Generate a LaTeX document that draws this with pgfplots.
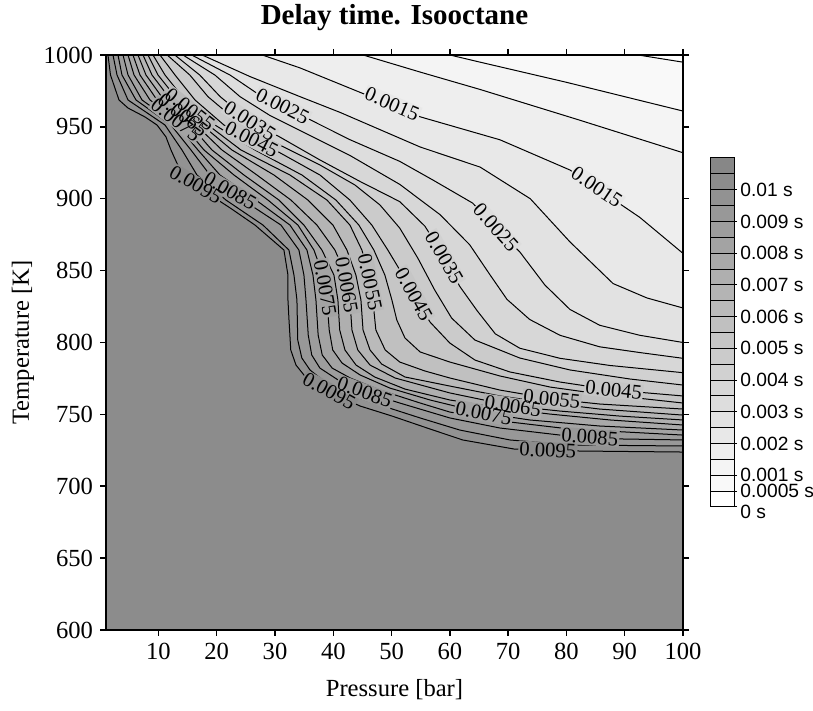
\documentclass[border=0pt]{standalone}
\usepackage{fontspec}
\setmainfont{Liberation Serif}
\newfontfamily\sansf{Liberation Sans}
\usepackage{pgfplots}
\usepackage{pgfplotstable}
\pgfplotsset{compat=1.18}

% gray levels of the 22 colour classes (0 ... 0.011 s in steps of 0.0005 s)
\definecolor{c0}{gray}{1.0}
\definecolor{c1}{gray}{0.9775}
\definecolor{c2}{gray}{0.955}
\definecolor{c3}{gray}{0.9325}
\definecolor{c4}{gray}{0.91}
\definecolor{c5}{gray}{0.8875}
\definecolor{c6}{gray}{0.865}
\definecolor{c7}{gray}{0.8425}
\definecolor{c8}{gray}{0.82}
\definecolor{c9}{gray}{0.7975}
\definecolor{c10}{gray}{0.775}
\definecolor{c11}{gray}{0.7525}
\definecolor{c12}{gray}{0.73}
\definecolor{c13}{gray}{0.7075}
\definecolor{c14}{gray}{0.685}
\definecolor{c15}{gray}{0.6625}
\definecolor{c16}{gray}{0.64}
\definecolor{c17}{gray}{0.6175}
\definecolor{c18}{gray}{0.595}
\definecolor{c19}{gray}{0.5725}
\definecolor{c20}{gray}{0.55}
\definecolor{c21}{gray}{0.5275}

% contour lines, 0.0005 s ... 0.01 s (pressure [bar], temperature [K])
\pgfplotstableread[row sep=\\]{x y\\ 92.3 1000\\ 100 995\\}\ctA
\pgfplotstableread[row sep=\\]{x y\\ 60 1000\\ 65.2 995\\ 80 981\\ 100 961\\}\ctB
\pgfplotstableread[row sep=\\]{x y\\ 45.1 1000\\ 55 988\\ 65.2 976\\ 82 955\\ 100 932\\}\ctC
\pgfplotstableread[row sep=\\]{x y\\ 27.8 1000\\ 34.3 991\\ 44.6 974\\ 54.9 957\\ 68.6 941\\ 80.6 920\\ 85.7 906\\ 92.6 887\\ 100 862\\}\ctD
\pgfplotstableread[row sep=\\]{x y\\ 17.5 1000\\ 25.7 985\\ 34.3 971\\ 41.2 960\\ 54.9 936\\ 65.2 922\\ 73.8 900\\ 80.6 870\\ 88 841\\ 93.8 831\\ 100 824\\}\ctE
\pgfplotstableread[row sep=\\]{x y\\ 15.7 1000\\ 22.3 986\\ 27.4 972\\ 31.3 965\\ 36 955\\ 42.9 941\\ 51.4 926\\ 57.1 913\\ 63.9 897\\ 67.9 880\\ 72 863\\ 76.3 840\\ 80.6 823\\ 85.7 812\\ 92.6 805\\ 100 800\\}\ctF
\pgfplotstableread[row sep=\\]{x y\\ 14.2 1000\\ 19.7 986\\ 24 971\\ 29.1 958\\ 36 944\\ 42.9 930\\ 51.4 910\\ 58.3 889\\ 63.4 868\\ 66.9 847\\ 69.8 830\\ 73.7 816\\ 78.9 805\\ 85.7 797\\ 92.6 793\\ 100 789\\}\ctG
\pgfplotstableread[row sep=\\]{x y\\ 12.8 1000\\ 17.1 986\\ 20.6 971\\ 25.7 954\\ 30.8 943\\ 37.7 927\\ 44.6 912\\ 51.4 898\\ 55.7 881\\ 59 860\\ 61.7 839\\ 64.7 822\\ 67.8 806\\ 72 796\\ 78.9 789\\ 87.5 784\\ 100 779\\}\ctH
\pgfplotstableread[row sep=\\]{x y\\ 11.5 1000\\ 15.4 986\\ 18.5 971\\ 22.3 958\\ 25.7 948\\ 30.8 937.4\\ 37.7 923.5\\ 43.7 909.6\\ 48 895.7\\ 51.4 879.6\\ 54.5 858.7\\ 57.4 836.5\\ 60.3 817\\ 64.3 801.7\\ 72 789.2\\ 80.6 780.9\\ 90.9 774.6\\ 100 770.4\\}\ctI
\pgfplotstableread[row sep=\\]{x y\\ 10.26 1000\\ 12.84 986.1\\ 16.27 968.7\\ 21.24 951.3\\ 29.99 933.9\\ 37.71 916.5\\ 42.85 899.1\\ 46.61 881.7\\ 49.36 864.3\\ 51.94 846.9\\ 54.34 829.6\\ 56.6 814.2\\ 60 799.6\\ 64.3 787.8\\ 70.3 779.5\\ 78.9 772.5\\ 88.1 766.9\\ 100 762.8\\}\ctJ
\pgfplotstableread[row sep=\\]{x y\\ 9.06 1000\\ 11.12 986.1\\ 14.55 968.7\\ 19.7 951.3\\ 26.56 933.9\\ 34.62 916.5\\ 40.45 899.1\\ 44.39 881.7\\ 46.96 864.3\\ 48.85 846.9\\ 50.05 829.6\\ 50.9 815.6\\ 52.3 803.1\\ 54.9 793.4\\ 60 786.4\\ 68.6 776.7\\ 77.2 769\\ 85.7 764.2\\ 100 757.9\\}\ctK
\pgfplotstableread[row sep=\\]{x y\\ 8.2 1000\\ 9.92 986.1\\ 13.35 968.7\\ 18.5 951.3\\ 24.16 933.9\\ 32.56 916.5\\ 38.91 899.1\\ 42.85 881.7\\ 44.91 864.3\\ 46.09 846.9\\ 46.79 829.6\\ 47.3 808.7\\ 48.9 794.8\\ 51.4 786.4\\ 55.7 780.2\\ 60 775.3\\ 68.6 766.9\\ 77.5 760.7\\ 85.7 757.2\\ 100 753.7\\}\ctL
\pgfplotstableread[row sep=\\]{x y\\ 7.35 1000\\ 8.89 986.1\\ 12.15 968.7\\ 17.47 951.3\\ 22.61 933.9\\ 29.82 916.5\\ 35.65 899.1\\ 39.94 881.7\\ 42.34 864.3\\ 43.88 846.9\\ 44.74 829.6\\ 45.1 808.7\\ 46.3 794.8\\ 48.3 785\\ 52.3 776\\ 60 769.7\\ 68.6 762.8\\ 77.2 757.9\\ 85.7 753.7\\ 100 749.5\\}\ctM
\pgfplotstableread[row sep=\\]{x y\\ 6.49 1000\\ 7.86 986.1\\ 10.95 968.7\\ 16.44 951.3\\ 20.9 933.9\\ 26.9 916.5\\ 32.73 899.1\\ 37.19 881.7\\ 40.28 864.3\\ 42.16 846.9\\ 42.85 829.6\\ 43.2 808.7\\ 44.2 794.8\\ 46.3 784.3\\ 50.6 775.3\\ 60 764.9\\ 70.8 755.8\\ 78.9 752.3\\ 89.2 748.8\\ 100 746.1\\}\ctN
\pgfplotstableread[row sep=\\]{x y\\ 5.63 1000\\ 6.83 986.1\\ 9.75 968.7\\ 15.41 951.3\\ 19.19 933.9\\ 24.67 916.5\\ 30.67 899.1\\ 34.96 881.7\\ 38.05 864.3\\ 40.11 846.9\\ 40.79 829.6\\ 41.1 808.7\\ 42 794.8\\ 43.9 784.3\\ 47.1 776\\ 52.3 767.6\\ 60 760\\ 68.6 754.4\\ 77.2 750.2\\ 87.5 746.1\\ 100 742.6\\}\ctO
\pgfplotstableread[row sep=\\]{x y\\ 4.78 1000\\ 5.81 986.1\\ 8.55 968.7\\ 14.21 951.3\\ 17.82 933.9\\ 22.96 916.5\\ 28.79 899.1\\ 33.93 881.7\\ 36.68 864.3\\ 38.22 846.9\\ 38.91 829.6\\ 39.3 808.7\\ 39.9 794.8\\ 41.5 785.7\\ 44.6 777.4\\ 49.7 768.3\\ 56.6 760\\ 65.8 750.9\\ 73.7 746.1\\ 85.7 741.9\\ 100 739.1\\}\ctP
\pgfplotstableread[row sep=\\]{x y\\ 3.92 1000\\ 4.78 986.1\\ 7.18 968.7\\ 13.18 951.3\\ 16.78 933.9\\ 20.55 916.5\\ 26.73 899.1\\ 32.56 881.7\\ 35.48 864.3\\ 36.51 846.9\\ 37.02 829.6\\ 37.4 805.2\\ 38.1 791.3\\ 39.8 782.2\\ 42.9 775.3\\ 48 766.9\\ 54.9 757.9\\ 60 751.6\\ 70.3 744.7\\ 80.6 739.8\\ 100 735.6\\}\ctQ
\pgfplotstableread[row sep=\\]{x y\\ 3.06 1000\\ 3.74 986.1\\ 6.15 968.7\\ 12.15 951.3\\ 15.58 933.9\\ 18.84 916.5\\ 24.5 899.1\\ 31.02 881.7\\ 34.1 864.3\\ 34.96 846.9\\ 35.31 829.6\\ 35.7 805.2\\ 36.3 791.3\\ 37.7 782.2\\ 41.1 773.2\\ 45.4 765.5\\ 51.4 757.9\\ 60 747.5\\ 68.6 740.5\\ 78.9 735.6\\ 89.2 732.9\\ 100 732.2\\}\ctR
\pgfplotstableread[row sep=\\]{x y\\ 2.2 1000\\ 2.89 986.1\\ 4.78 968.7\\ 11.12 951.3\\ 14.04 933.9\\ 16.61 916.5\\ 21.58 899.1\\ 27.93 881.7\\ 32.39 864.3\\ 33.25 846.9\\ 33.76 829.6\\ 33.9 801.7\\ 34.6 789.2\\ 36 780.9\\ 38.6 772.5\\ 42.9 763.5\\ 48 756.5\\ 54.9 747.5\\ 61.7 739.1\\ 70.3 732.2\\ 80.6 728.7\\ 100 728\\}\ctS
\pgfplotstableread[row sep=\\]{x y\\ 1.34 1000\\ 1.77 986.1\\ 3.23 968.7\\ 4.78 963.1\\ 7.69 956.9\\ 9.75 951.3\\ 11.29 943\\ 12.15 933.9\\ 13.7 920\\ 17.12 907.5\\ 20.21 899.1\\ 22.3 893.6\\ 26.56 881.7\\ 31.53 864.3\\ 32.22 846.9\\ 32.22 829.6\\ 32.4 815.6\\ 32.7 794.8\\ 33.6 784.3\\ 35.1 776.7\\ 39.4 765.5\\ 44.6 755.8\\ 50.1 748.8\\ 56.6 739.8\\ 62.2 732.2\\ 71 725.9\\ 82.3 724.5\\ 100 723.8\\}\ctT

\tikzset{
  ctline/.style={black, line width=0.5pt, line join=round},
  lbl/.style={font=\fontsize{10.3}{12}\selectfont, inner sep=0.6pt},
  cbox/.style={draw=black, line width=0.5pt},
}
\newcommand{\cfill}[2]{\addplot[draw=none, fill=#2] table {#1} -- (axis cs:100,600) -- (axis cs:1,600) -- (axis cs:1,1000) -- cycle;}
\newcommand{\keep}[1]{#1}

% contour labels; drawn twice: background patches (phantom text) first, then the text
\newcommand{\clabels}[2]{%
  \node[lbl, rotate=-23, fill=c4, #1] at (axis cs:50.1,966) {#2{0.0015}};
  \node[lbl, rotate=-34, fill=c4, #1] at (axis cs:85.2,908) {#2{0.0015}};
  \node[lbl, rotate=-27, fill=c6, #1] at (axis cs:31.3,964.5) {#2{0.0025}};
  \node[lbl, rotate=-48, fill=c6, #1] at (axis cs:67.9,880) {#2{0.0025}};
  \node[lbl, rotate=-32, fill=c8, #1] at (axis cs:25.7,954) {#2{0.0035}};
  \node[lbl, rotate=-60, fill=c8, #1] at (axis cs:59,859) {#2{0.0035}};
  \node[lbl, rotate=-27, fill=c10, #1] at (axis cs:26,941.6) {#2{0.0045}};
  \node[lbl, rotate=-61, fill=c10, #1] at (axis cs:53.8,833.7) {#2{0.0045}};
  \node[lbl, rotate=-6, fill=c10, #1] at (axis cs:88.1,767) {#2{0.0045}};
  \node[lbl, rotate=-38, fill=c12, #1] at (axis cs:15.4,962) {#2{0.0055}};
  \node[lbl, rotate=-38, fill=c14, #1] at (axis cs:14.2,958.4) {#2{0.0065}};
  \node[lbl, rotate=-38, fill=c16, #1] at (axis cs:13,955) {#2{0.0075}};
  \node[lbl, rotate=-30, fill=c20, #1] at (axis cs:16.4,910) {#2{0.0095}};
  \node[lbl, rotate=-30, fill=c18, #1] at (axis cs:22.3,905.5) {#2{0.0085}};
  \node[lbl, rotate=-80, fill=c16, #1] at (axis cs:38.6,838) {#2{0.0075}};
  \node[lbl, rotate=-80, fill=c14, #1] at (axis cs:42.3,840) {#2{0.0065}};
  \node[lbl, rotate=-78, fill=c12, #1] at (axis cs:46.3,842) {#2{0.0055}};
  \node[lbl, rotate=-29, fill=c20, #1] at (axis cs:39.3,766) {#2{0.0095}};
  \node[lbl, rotate=-20, fill=c18, #1] at (axis cs:45.4,765.5) {#2{0.0085}};
  \node[lbl, rotate=-11, fill=c16, #1] at (axis cs:65.8,750.9) {#2{0.0075}};
  \node[lbl, rotate=-9, fill=c14, #1] at (axis cs:70.8,755.8) {#2{0.0065}};
  \node[lbl, rotate=-6, fill=c12, #1] at (axis cs:77.5,760.7) {#2{0.0055}};
  \node[lbl, rotate=-4, fill=c18, #1] at (axis cs:84,734.2) {#2{0.0085}};
  \node[lbl, rotate=-3, fill=c20, #1] at (axis cs:76.8,725) {#2{0.0095}};
}

\begin{document}
\begin{tikzpicture}
\useasboundingbox (-53pt,-40.5pt) rectangle (353.5pt,315pt);
\begin{axis}[
  at={(0,0)}, anchor=south west,
  scale only axis, width=288.5pt, height=287.5pt,
  xmin=1, xmax=100, ymin=600, ymax=1000,
  xtick={10,20,30,40,50,60,70,80,90,100},
  ytick={600,650,700,750,800,850,900,950,1000},
  tick align=outside, major tick length=3pt,
  axis on top,
  axis line style={line width=0.75pt},
  tick style={black, line width=0.75pt},
  tick label style={font=\fontsize{12.3}{14}\selectfont},
  /pgf/number format/assume math mode=true,
  /pgf/number format/1000 sep={},
  every axis title shift=0pt,
  title={Delay time. Isooctane},
  title style={at={(0.5,1.0643)}, anchor=center, yshift=0pt, font=\bfseries\fontsize{14.5}{17}\selectfont},
  xlabel={Pressure [bar]},
  xlabel style={at={(0.5,-0.1043)}, anchor=center, font=\fontsize{12.3}{14}\selectfont},
  ylabel={Temperature [K]},
  ylabel style={at={(-0.1438,0.5)}, anchor=center, font=\fontsize{12.3}{14}\selectfont},
  axis background/.style={fill=c0},
]
\cfill{\ctA}{c1}
\cfill{\ctB}{c2}
\cfill{\ctC}{c3}
\cfill{\ctD}{c4}
\cfill{\ctE}{c5}
\cfill{\ctF}{c6}
\cfill{\ctG}{c7}
\cfill{\ctH}{c8}
\cfill{\ctI}{c9}
\cfill{\ctJ}{c10}
\cfill{\ctK}{c11}
\cfill{\ctL}{c12}
\cfill{\ctM}{c13}
\cfill{\ctN}{c14}
\cfill{\ctO}{c15}
\cfill{\ctP}{c16}
\cfill{\ctQ}{c17}
\cfill{\ctR}{c18}
\cfill{\ctS}{c19}
\cfill{\ctT}{c20}

\addplot[ctline] table {\ctA};
\addplot[ctline] table {\ctB};
\addplot[ctline] table {\ctC};
\addplot[ctline] table {\ctD};
\addplot[ctline] table {\ctE};
\addplot[ctline] table {\ctF};
\addplot[ctline] table {\ctG};
\addplot[ctline] table {\ctH};
\addplot[ctline] table {\ctI};
\addplot[ctline] table {\ctJ};
\addplot[ctline] table {\ctK};
\addplot[ctline] table {\ctL};
\addplot[ctline] table {\ctM};
\addplot[ctline] table {\ctN};
\addplot[ctline] table {\ctO};
\addplot[ctline] table {\ctP};
\addplot[ctline] table {\ctQ};
\addplot[ctline] table {\ctR};
\addplot[ctline] table {\ctS};
\addplot[ctline] table {\ctT};

\clabels{}{\phantom}
\clabels{fill=none}{\keep}
\end{axis}

% colour bar
\begin{axis}[
  at={(302pt,61.5pt)}, anchor=south west,
  scale only axis, width=12pt, height=174.5pt,
  xmin=0, xmax=1, ymin=0, ymax=22,
  axis line style={draw=none},
  xtick=\empty,
  ytick={1,2,4,6,8,10,12,14,16,18,20},
  yticklabels={0.0005 s,0.001 s,0.002 s,0.003 s,0.004 s,0.005 s,0.006 s,0.007 s,0.008 s,0.009 s,0.01 s},
  extra y ticks={0},
  extra y tick labels={0 s},
  extra y tick style={yticklabel style={yshift=-2.5pt}},
  ytick pos=right, yticklabel pos=right,
  tick align=outside, major tick length=1.5pt,
  tick style={black, line width=0.5pt},
  yticklabel style={font=\sansf\fontsize{9.6}{11}\selectfont, inner xsep=1.5pt, inner ysep=0pt},
  clip=false,
]
\addplot[cbox, fill=c0] coordinates {(0,0) (1,0) (1,1) (0,1)} -- cycle;
\addplot[cbox, fill=c1] coordinates {(0,1) (1,1) (1,2) (0,2)} -- cycle;
\addplot[cbox, fill=c2] coordinates {(0,2) (1,2) (1,3) (0,3)} -- cycle;
\addplot[cbox, fill=c3] coordinates {(0,3) (1,3) (1,4) (0,4)} -- cycle;
\addplot[cbox, fill=c4] coordinates {(0,4) (1,4) (1,5) (0,5)} -- cycle;
\addplot[cbox, fill=c5] coordinates {(0,5) (1,5) (1,6) (0,6)} -- cycle;
\addplot[cbox, fill=c6] coordinates {(0,6) (1,6) (1,7) (0,7)} -- cycle;
\addplot[cbox, fill=c7] coordinates {(0,7) (1,7) (1,8) (0,8)} -- cycle;
\addplot[cbox, fill=c8] coordinates {(0,8) (1,8) (1,9) (0,9)} -- cycle;
\addplot[cbox, fill=c9] coordinates {(0,9) (1,9) (1,10) (0,10)} -- cycle;
\addplot[cbox, fill=c10] coordinates {(0,10) (1,10) (1,11) (0,11)} -- cycle;
\addplot[cbox, fill=c11] coordinates {(0,11) (1,11) (1,12) (0,12)} -- cycle;
\addplot[cbox, fill=c12] coordinates {(0,12) (1,12) (1,13) (0,13)} -- cycle;
\addplot[cbox, fill=c13] coordinates {(0,13) (1,13) (1,14) (0,14)} -- cycle;
\addplot[cbox, fill=c14] coordinates {(0,14) (1,14) (1,15) (0,15)} -- cycle;
\addplot[cbox, fill=c15] coordinates {(0,15) (1,15) (1,16) (0,16)} -- cycle;
\addplot[cbox, fill=c16] coordinates {(0,16) (1,16) (1,17) (0,17)} -- cycle;
\addplot[cbox, fill=c17] coordinates {(0,17) (1,17) (1,18) (0,18)} -- cycle;
\addplot[cbox, fill=c18] coordinates {(0,18) (1,18) (1,19) (0,19)} -- cycle;
\addplot[cbox, fill=c19] coordinates {(0,19) (1,19) (1,20) (0,20)} -- cycle;
\addplot[cbox, fill=c20] coordinates {(0,20) (1,20) (1,21) (0,21)} -- cycle;
\addplot[cbox, fill=c21] coordinates {(0,21) (1,21) (1,22) (0,22)} -- cycle;
\end{axis}
\end{tikzpicture}
\end{document}
